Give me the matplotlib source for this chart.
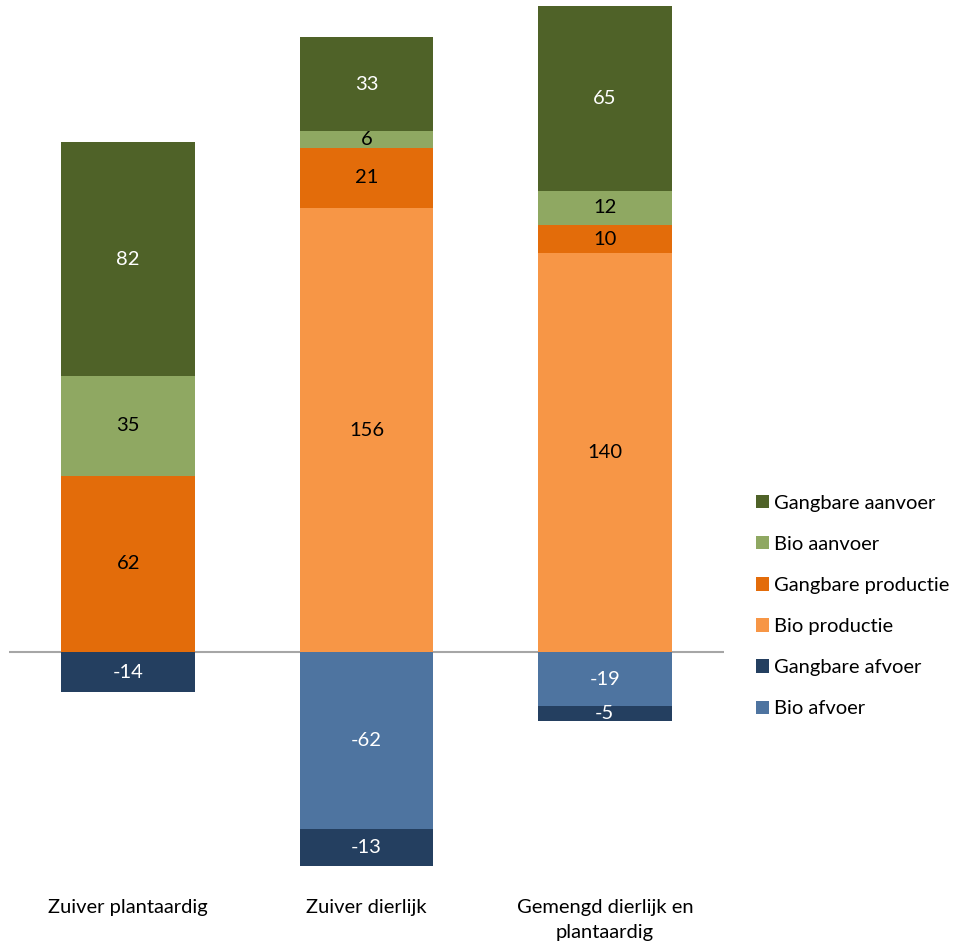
import matplotlib.pyplot as plt
import numpy as np
from matplotlib.patches import Patch

plt.rcParams['font.family'] = ['Lato', 'DejaVu Sans']

categories = ['Zuiver plantaardig', 'Zuiver dierlijk', 'Gemengd dierlijk en\nplantaardig']

# positieve posten (van onder naar boven gestapeld)
bio_productie = [0, 156, 140]
gangbare_productie = [62, 21, 10]
bio_aanvoer = [35, 6, 12]
gangbare_aanvoer = [82, 33, 65]

# negatieve posten (vanaf nul naar beneden)
bio_afvoer = [0, -62, -19]
gangbare_afvoer = [-14, -13, -5]

kleuren = {
    'Gangbare aanvoer': '#4f6228',
    'Bio aanvoer': '#8fa862',
    'Gangbare productie': '#e36c0a',
    'Bio productie': '#f79646',
    'Gangbare afvoer': '#243f60',
    'Bio afvoer': '#4e74a0',
}
tekstkleur = {
    'Gangbare aanvoer': 'white',
    'Bio aanvoer': 'black',
    'Gangbare productie': 'black',
    'Bio productie': 'black',
    'Gangbare afvoer': 'white',
    'Bio afvoer': 'white',
}

fig = plt.figure(figsize=(9.56, 9.44), dpi=100)
ax = fig.add_axes([9 / 956, 64 / 944, 715 / 956, 880 / 944])

x = np.arange(len(categories))
breedte = 0.56
fs = 14.5

def stapel(reeksen, namen):
    basis = np.zeros(len(categories))
    for waarden, naam in zip(reeksen, namen):
        waarden = np.array(waarden, dtype=float)
        ax.bar(x, waarden, breedte, bottom=basis, color=kleuren[naam], zorder=2)
        for i, v in enumerate(waarden):
            if v != 0:
                ax.text(x[i], basis[i] + v / 2, f'{int(v)}', ha='center', va='center',
                        fontsize=fs, color=tekstkleur[naam], zorder=3)
        basis += waarden

stapel([bio_productie, gangbare_productie, bio_aanvoer, gangbare_aanvoer],
       ['Bio productie', 'Gangbare productie', 'Bio aanvoer', 'Gangbare aanvoer'])
stapel([bio_afvoer, gangbare_afvoer], ['Bio afvoer', 'Gangbare afvoer'])

ax.axhline(0, color='#a6a6a6', linewidth=1.5, zorder=1)

ax.set_xlim(-0.5, 2.5)
ax.set_ylim(-80, 229)
ax.set_xticks(x)
ax.set_xticklabels(categories, fontsize=fs, linespacing=1.55)
ax.tick_params(axis='x', length=0, pad=14)
ax.set_yticks([])
for s in ax.spines.values():
    s.set_visible(False)

volgorde = ['Gangbare aanvoer', 'Bio aanvoer', 'Gangbare productie',
            'Bio productie', 'Gangbare afvoer', 'Bio afvoer']
handles = [Patch(facecolor=kleuren[n], label=n) for n in volgorde]
fig.legend(handles=handles, loc='center left', bbox_to_anchor=(748 / 956, 1 - 606 / 944),
           frameon=False, fontsize=fs, handlelength=0.65, handleheight=0.65,
           handletextpad=0.25, labelspacing=1.2, borderaxespad=0)

fig.savefig('out.png', dpi=100, facecolor='white')
